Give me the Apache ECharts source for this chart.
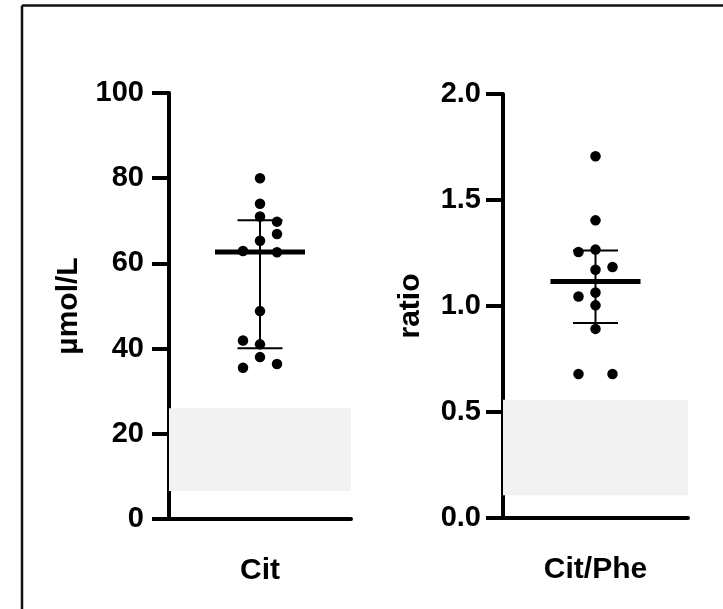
<!DOCTYPE html>
<html>
<head>
<meta charset="utf-8">
<script src="https://cdn.jsdelivr.net/npm/echarts@6/dist/echarts.min.js"></script>
<style>
html,body{margin:0;padding:0;background:#fff;}
#chart{width:723px;height:609px;}
</style>
</head>
<body>
<div id="chart"></div>
<script>
// ---- data ----
const leftCategories = ['Cit'];
const rightCategories = ['Cit/Phe'];
const leftAxisTitle = 'µmol/L';
const rightAxisTitle = 'ratio';

const citValues = [80, 74, 71, 69.8, 66.9, 65.3, 62.9, 62.6, 48.8, 41.9, 41, 38, 35.5, 36.4];
const citColumn = [0, 0, 0, 1, 1, 0, -1, 1, 0, -1, 0, 0, -1, 1];
const citMedian = 62.7;
const citQ1 = 40.1;
const citQ3 = 70.1;
const citReference = [6.6, 26];

const ratioValues = [1.706, 1.404, 1.255, 1.266, 1.171, 1.184, 1.045, 1.064, 1.003, 0.892, 0.679, 0.679];
const ratioColumn = [0, 0, -1, 0, 0, 1, -1, 0, 0, 0, -1, 1];
const ratioMedian = 1.116;
const ratioQ1 = 0.92;
const ratioQ3 = 1.262;
const ratioReference = [0.107, 0.558];

const leftTicks = {min: 0, max: 100, interval: 20};
const rightTicks = {min: 0, max: 2, interval: 0.5};

// ---- chart ----
const FONT = '"Liberation Sans", Arial, sans-serif';
const BLACK = '#000';
const chart = echarts.init(document.getElementById('chart'), null, {renderer: 'canvas'});

function catAxis(gridIndex, cats) {
  return {
    type: 'category', gridIndex: gridIndex, data: cats,
    axisLine: {lineStyle: {color: BLACK, width: 4}},
    axisTick: {alignWithLabel: true, length: 17, lineStyle: {color: BLACK, width: 4}},
    axisLabel: {color: BLACK, fontFamily: FONT, fontWeight: 'bold', fontSize: 30, margin: 37},
    splitLine: {show: false}
  };
}
function valAxis(gridIndex, ticks, name, gap, labelMargin, decimals) {
  return {
    type: 'value', gridIndex: gridIndex, min: ticks.min, max: ticks.max, interval: ticks.interval,
    name: name, nameLocation: 'middle', nameRotate: 90, nameGap: gap,
    nameTextStyle: {color: BLACK, fontFamily: FONT, fontWeight: 'bold', fontSize: 30},
    axisLine: {show: true, lineStyle: {color: BLACK, width: 4}},
    axisTick: {show: true, length: 17, lineStyle: {color: BLACK, width: 4}},
    axisLabel: {color: BLACK, fontFamily: FONT, fontWeight: 'bold', fontSize: 29, margin: labelMargin,
      formatter: v => decimals ? v.toFixed(decimals) : String(v)},
    splitLine: {show: false}
  };
}
function dots(values, cols) {
  return values.map((v, i) => ({value: [0, v], symbolOffset: [cols[i] * 17, 0]}));
}
function summarySeries(axisIdx, median, q1, q3, ref) {
  return {
    type: 'custom', xAxisIndex: axisIdx, yAxisIndex: axisIdx, z: 3,
    data: [[0, median, q1, q3]],
    renderItem: function (params, api) {
      const c = api.coord([api.value(0), api.value(1)]);
      const lo = api.coord([api.value(0), api.value(2)]);
      const hi = api.coord([api.value(0), api.value(3)]);
      const st = {stroke: BLACK, lineWidth: 2};
      return {type: 'group', children: [
        {type: 'line', shape: {x1: c[0], y1: hi[1], x2: c[0], y2: lo[1]}, style: st},
        {type: 'line', shape: {x1: c[0] - 22.5, y1: hi[1], x2: c[0] + 22.5, y2: hi[1]}, style: st},
        {type: 'line', shape: {x1: c[0] - 22.5, y1: lo[1], x2: c[0] + 22.5, y2: lo[1]}, style: st},
        {type: 'line', shape: {x1: c[0] - 45, y1: c[1], x2: c[0] + 45, y2: c[1]}, style: {stroke: BLACK, lineWidth: 5}}
      ]};
    },
    markArea: {
      silent: true,
      itemStyle: {color: '#f2f2f2'},
      data: [[{yAxis: ref[0]}, {yAxis: ref[1]}]]
    }
  };
}

chart.setOption({
  backgroundColor: '#fff',
  animation: false,
  grid: [
    {left: 169, top: 93, width: 182, height: 426},
    {left: 503, top: 94, width: 185, height: 424}
  ],
  xAxis: [catAxis(0, leftCategories), catAxis(1, rightCategories)],
  yAxis: [
    valAxis(0, leftTicks, leftAxisTitle, 85, 25, 0),
    valAxis(1, rightTicks, rightAxisTitle, 77, 22, 1)
  ],
  series: [
    summarySeries(0, citMedian, citQ1, citQ3, citReference),
    summarySeries(1, ratioMedian, ratioQ1, ratioQ3, ratioReference),
    {type: 'scatter', xAxisIndex: 0, yAxisIndex: 0, z: 4, symbolSize: 10.5,
     itemStyle: {color: BLACK, opacity: 1}, data: dots(citValues, citColumn)},
    {type: 'scatter', xAxisIndex: 1, yAxisIndex: 1, z: 4, symbolSize: 10.5,
     itemStyle: {color: BLACK, opacity: 1}, data: dots(ratioValues, ratioColumn)}
  ],
  graphic: [
    {type: 'line', silent: true, shape: {x1: 22, y1: 5.5, x2: 22, y2: 609}, style: {stroke: '#111', lineWidth: 2.5}},
    {type: 'line', silent: true, shape: {x1: 22, y1: 5.5, x2: 723, y2: 5.5}, style: {stroke: '#111', lineWidth: 2.5}}
  ]
});
</script>
</body>
</html>
